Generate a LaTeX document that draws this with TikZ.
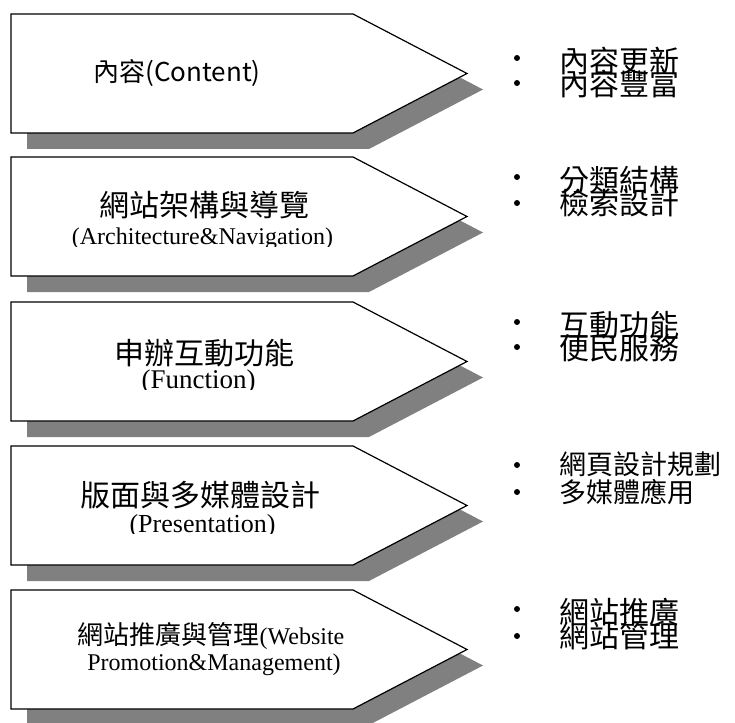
\documentclass[tikz,border=0pt]{standalone}
\usepackage{fontspec}
\setmainfont{Liberation Serif}
\newfontfamily\cjk{Noto Sans CJK TC}
\definecolor{shadowgray}{HTML}{808080}
\begin{document}
\begin{tikzpicture}[x=1pt,y=-1pt,
  arrowbox/.style={fill=white, draw=black, line width=1.2pt, line join=miter},
  zh/.style={font=\cjk\fontsize{30}{30}\selectfont, inner sep=0pt},
  zhs/.style={font=\cjk\fontsize{26}{26}\selectfont, inner sep=0pt},
  en/.style={font=\fontsize{24}{24}\selectfont, inner sep=0pt},
  bulletdot/.style={circle, fill=black, inner sep=0pt, minimum size=6pt},
  item/.style={zh, anchor=west},
]
\useasboundingbox (0,0) rectangle (735,722);
\foreach \t in {14,157,302,446,590}{
  \begin{scope}[shift={(0,\t)}]
    \fill[shadowgray] (27,16) -- (369,16) -- (483,75.5) -- (369,135) -- (27,135) -- cycle;
    \draw[arrowbox] (11,0) -- (353,0) -- (467,59.5) -- (353,119) -- (11,119) -- cycle;
  \end{scope}
}
% left texts
\node[zhs] (c1) at (177,73.5) {內容(Content)};

\node[zh] (c2) at (204,205) {網站架構與導覽};
\begin{scope}
  \clip (0,150) rectangle (735,246);
  \node[en, anchor=base] (e2) at (202.5,244.5) {(Architecture\&Navigation)};
\end{scope}

\node[zh] (c3) at (204.5,353) {申辦互動功能};
\begin{scope}
  \clip (0,290) rectangle (735,389);
  \node[en, font=\fontsize{27}{27}\selectfont, anchor=base] (e3) at (198.5,388) {(Function)};
\end{scope}

\node[zh] (c4) at (200.5,495) {版面與多媒體設計};
\begin{scope}
  \clip (0,430) rectangle (735,533);
  \node[en, font=\fontsize{26}{26}\selectfont, anchor=base] (e4) at (202.5,532) {(Presentation)};
\end{scope}

\node[inner sep=0pt, anchor=base] (c5) at (211,644) {{\cjk\fontsize{26}{26}\selectfont 網站推廣與管理}{\fontsize{24}{24}\selectfont (Website}};
\node[en, anchor=base] (e5) at (214,670) {Promotion\&Management)};

% right bullets
\node[bulletdot] (b11) at (517,58) {};
\node[bulletdot] (b12) at (517,83) {};
\node[item] (t11) at (559,61.5) {內容更新};
\node[item] (t12) at (559,83.5) {內容豐富};

\node[bulletdot] (b21) at (517,177) {};
\node[bulletdot] (b22) at (517,203) {};
\node[item] (t21) at (559,180.5) {分類結構};
\node[item] (t22) at (559,203.5) {檢索設計};

\node[bulletdot] (b31) at (517,322) {};
\node[bulletdot] (b32) at (517,347) {};
\node[item] (t31) at (559,325) {互動功能};
\node[item] (t32) at (559,348.5) {便民服務};

\node[bulletdot] (b41) at (517,465) {};
\node[bulletdot] (b42) at (517,492) {};
\node[item, font=\cjk\fontsize{27}{27}\selectfont] (t41) at (559,464) {網頁設計規劃};
\node[item, font=\cjk\fontsize{27}{27}\selectfont] (t42) at (559,492.5) {多媒體應用};

\node[bulletdot] (b51) at (517,609) {};
\node[bulletdot] (b52) at (517,636) {};
\node[item] (t51) at (559,612) {網站推廣};
\node[item] (t52) at (559,636) {網站管理};
\end{tikzpicture}
\end{document}
